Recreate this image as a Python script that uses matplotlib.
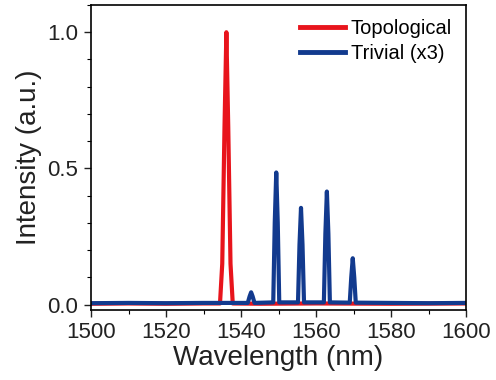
import numpy as np
import matplotlib.pyplot as plt
from matplotlib.ticker import MultipleLocator

plt.rcParams['font.family'] = ['Liberation Sans', 'DejaVu Sans']

# topological laser: single lasing mode near 1536 nm
topo_wl = [1500, 1510, 1520, 1530, 1534.4, 1535.0, 1535.6, 1536.1, 1536.6, 1537.2, 1537.8, 1545, 1560, 1580, 1600]
topo_int = [0.003, 0.004, 0.003, 0.004, 0.004, 0.15, 0.65, 1.0, 0.65, 0.15, 0.004, 0.003, 0.004, 0.003, 0.004]

# trivial laser (intensity x3): several modes
triv_wl = [1500, 1510, 1520, 1530, 1541.8, 1542.3, 1542.7, 1543.1, 1543.6,
           1548.6, 1549.0, 1549.4, 1549.8, 1550.2,
           1555.2, 1555.6, 1556.0, 1556.4, 1556.8,
           1562.1, 1562.5, 1562.9, 1563.3, 1563.7,
           1569.0, 1569.4, 1569.8, 1570.2, 1570.6,
           1580, 1590, 1600]
triv_int = [0.005, 0.006, 0.005, 0.006, 0.006, 0.03, 0.045, 0.03, 0.006,
            0.008, 0.3, 0.485, 0.3, 0.008,
            0.008, 0.22, 0.355, 0.22, 0.008,
            0.008, 0.26, 0.415, 0.26, 0.008,
            0.007, 0.1, 0.17, 0.1, 0.007,
            0.006, 0.005, 0.006]

fig = plt.figure(figsize=(4.96, 3.8), dpi=100)
ax = fig.add_axes([91/496, 1 - 310/380, 375/496, 305/380])

ax.plot(topo_wl, topo_int, color='#e8141c', lw=3, label='Topological')
ax.plot(triv_wl, triv_int, color='#123a8e', lw=3, label='Trivial (x3)')

ax.set_xlim(1500, 1600)
ax.set_ylim(-0.02, 1.1)
ax.set_xticks([1500, 1520, 1540, 1560, 1580, 1600])
ax.set_yticks([0.0, 0.5, 1.0])
ax.xaxis.set_minor_locator(MultipleLocator(10))
ax.yaxis.set_minor_locator(MultipleLocator(0.1))
ax.tick_params(which='major', direction='out', length=5, width=1, labelsize=16,
               colors='#222222', pad=4)
ax.tick_params(which='minor', direction='out', length=3, width=0.8)
for s in ax.spines.values():
    s.set_linewidth(1.2)

ax.set_xlabel('Wavelength (nm)', fontsize=20, labelpad=1, color='#222222')
ax.set_ylabel('Intensity (a.u.)', fontsize=20, labelpad=4, color='#222222')

leg = ax.legend(loc='upper right', fontsize=14.5, frameon=False, handlelength=2.2,
                handletextpad=0.3, labelspacing=0.3, borderaxespad=0.3)
for l in leg.get_lines():
    l.set_linewidth(3.5)

fig.savefig('out.png', dpi=100)
